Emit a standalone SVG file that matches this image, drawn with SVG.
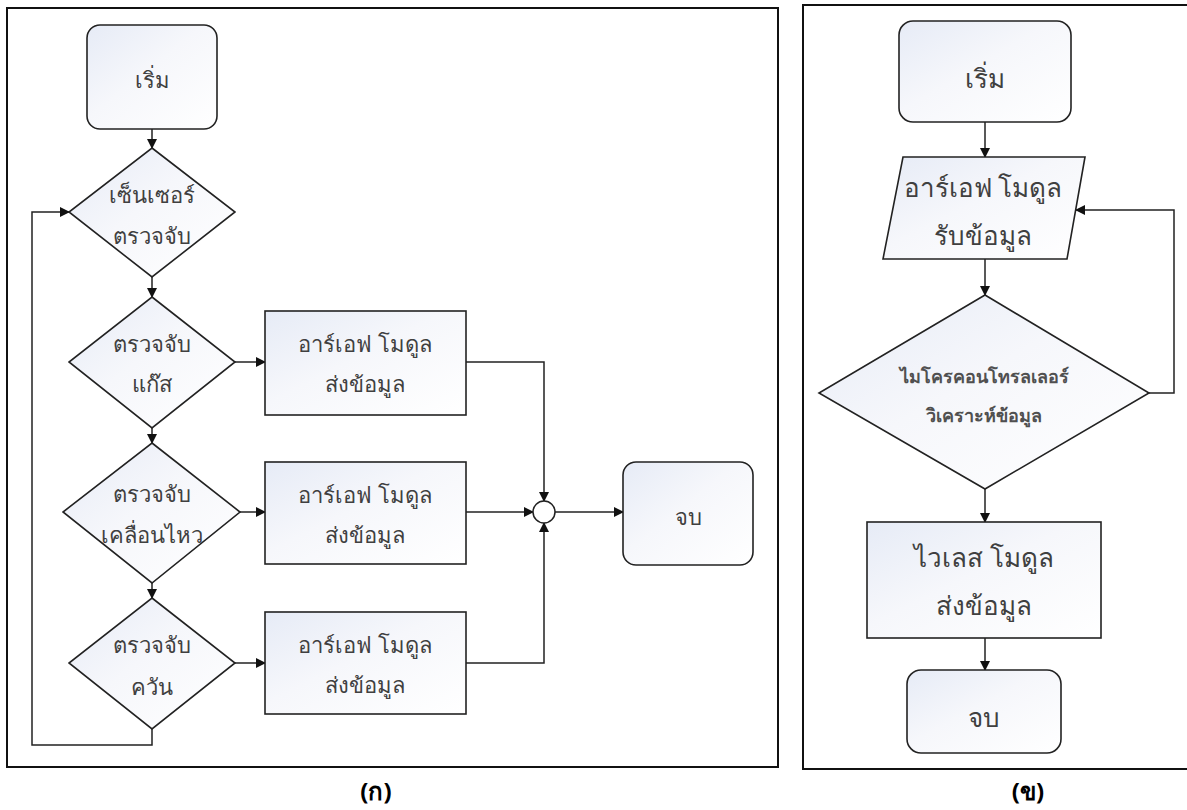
<svg xmlns="http://www.w3.org/2000/svg" width="1187" height="810" viewBox="0 0 1187 810">
<defs>
<linearGradient id="g" x1="0" y1="0" x2="1" y2="1">
<stop offset="0" stop-color="#e6ebf6"/>
<stop offset="0.45" stop-color="#f6f7fb"/>
<stop offset="1" stop-color="#ffffff"/>
</linearGradient>
<marker id="a" markerWidth="10" markerHeight="10" refX="9" refY="5" orient="auto" markerUnits="userSpaceOnUse">
<path d="M0,0 L10,5 L0,10 Z" fill="#111"/>
</marker>
<style>
.n{fill:url(#g);stroke:#222;stroke-width:1.6}
.c{fill:none;stroke:#222;stroke-width:1.5}
.t{font-family:"Noto Sans","Liberation Sans",sans-serif;fill:#404040;text-anchor:middle;font-size:22px}
.tl{font-size:26px}
.ts{font-size:18px;font-weight:bold;fill:#505050}
.cap{font-family:"Noto Sans","Liberation Sans",sans-serif;fill:#000;font-weight:bold;font-size:24px;text-anchor:middle}
.f{fill:none;stroke:#111;stroke-width:2}
</style>
</defs>
<rect class="f" x="7" y="8" width="771" height="759"/>
<path class="f" d="M1190,5 H803 V769 H1190"/>
<g id="connectors">
<path class="c" d="M152,129 V148" marker-end="url(#a)"/>
<path class="c" d="M152,277 V297" marker-end="url(#a)"/>
<path class="c" d="M152,428 V443" marker-end="url(#a)"/>
<path class="c" d="M152,583 V598" marker-end="url(#a)"/>
<path class="c" d="M152,729 V745 H32 V212 H69" marker-end="url(#a)"/>
<path class="c" d="M235,362 H265" marker-end="url(#a)"/>
<path class="c" d="M240,512 H265" marker-end="url(#a)"/>
<path class="c" d="M235,663 H265" marker-end="url(#a)"/>
<path class="c" d="M466,362 H544 V501" marker-end="url(#a)"/>
<path class="c" d="M466,512 H533" marker-end="url(#a)"/>
<path class="c" d="M466,663 H544 V523" marker-end="url(#a)"/>
<path class="c" d="M555,512 H623" marker-end="url(#a)"/>
<path class="c" d="M985,122 V157" marker-end="url(#a)"/>
<path class="c" d="M985,259 V295" marker-end="url(#a)"/>
<path class="c" d="M1149,393 H1174 V210 H1076" marker-end="url(#a)"/>
<path class="c" d="M985,489 V522" marker-end="url(#a)"/>
<path class="c" d="M985,638 V670" marker-end="url(#a)"/>
</g>
<g id="start-a">
<rect class="n" x="87" y="25" width="130" height="104" rx="13"/>
<text class="t" x="152" y="88">เริ่ม</text>
</g>
<g id="sensor">
<polygon class="n" points="152,148 235,212 152,277 69,212"/>
<text class="t" x="152" y="203">เซ็นเซอร์</text>
<text class="t" x="152" y="244">ตรวจจับ</text>
</g>
<g id="gas">
<polygon class="n" points="152,297 235,362 152,428 69,362"/>
<text class="t" x="152" y="352">ตรวจจับ</text>
<text class="t" x="152" y="392">แก๊ส</text>
</g>
<g id="motion">
<polygon class="n" points="152,443 240,512 152,583 63,512"/>
<text class="t" x="152" y="502">ตรวจจับ</text>
<text class="t" x="152" y="543">เคลื่อนไหว</text>
</g>
<g id="smoke">
<polygon class="n" points="152,598 235,663 152,729 69,663"/>
<text class="t" x="152" y="653">ตรวจจับ</text>
<text class="t" x="152" y="695">ควัน</text>
</g>
<g id="rf1">
<rect class="n" x="265" y="311" width="201" height="104"/>
<text class="t" x="365" y="352">อาร์เอฟ โมดูล</text>
<text class="t" x="365" y="392">ส่งข้อมูล</text>
</g>
<g id="rf2">
<rect class="n" x="265" y="462" width="201" height="102"/>
<text class="t" x="365" y="503">อาร์เอฟ โมดูล</text>
<text class="t" x="365" y="543">ส่งข้อมูล</text>
</g>
<g id="rf3">
<rect class="n" x="265" y="612" width="201" height="102"/>
<text class="t" x="365" y="653">อาร์เอฟ โมดูล</text>
<text class="t" x="365" y="693">ส่งข้อมูล</text>
</g>
<g id="junction">
<circle cx="544" cy="512" r="11" fill="#fff" stroke="#222" stroke-width="1.5"/>
</g>
<g id="end-a">
<rect class="n" x="623" y="462" width="130" height="103" rx="13"/>
<text class="t" x="688" y="525">จบ</text>
</g>
<g id="start-b">
<rect class="n" x="899" y="21" width="172" height="101" rx="14"/>
<text class="t tl" x="985" y="88">เริ่ม</text>
</g>
<g id="rf-receive">
<polygon class="n" points="903,157 1085,157 1067,259 883,259"/>
<text class="t tl" x="983" y="197">อาร์เอฟ โมดูล</text>
<text class="t tl" x="983" y="245">รับข้อมูล</text>
</g>
<g id="mcu">
<polygon class="n" points="985,295 1149,393 985,489 819,393"/>
<text class="t ts" x="984" y="383">ไมโครคอนโทรลเลอร์</text>
<text class="t ts" x="984" y="422">วิเคราะห์ข้อมูล</text>
</g>
<g id="wireless">
<rect class="n" x="867" y="522" width="234" height="116"/>
<text class="t tl" x="984" y="567">ไวเลส โมดูล</text>
<text class="t tl" x="984" y="615">ส่งข้อมูล</text>
</g>
<g id="end-b">
<rect class="n" x="907" y="670" width="154" height="83" rx="14"/>
<text class="t tl" x="984" y="727">จบ</text>
</g>
<text class="cap" x="376" y="800">(ก)</text>
<text class="cap" x="1028" y="800">(ข)</text>
</svg>
